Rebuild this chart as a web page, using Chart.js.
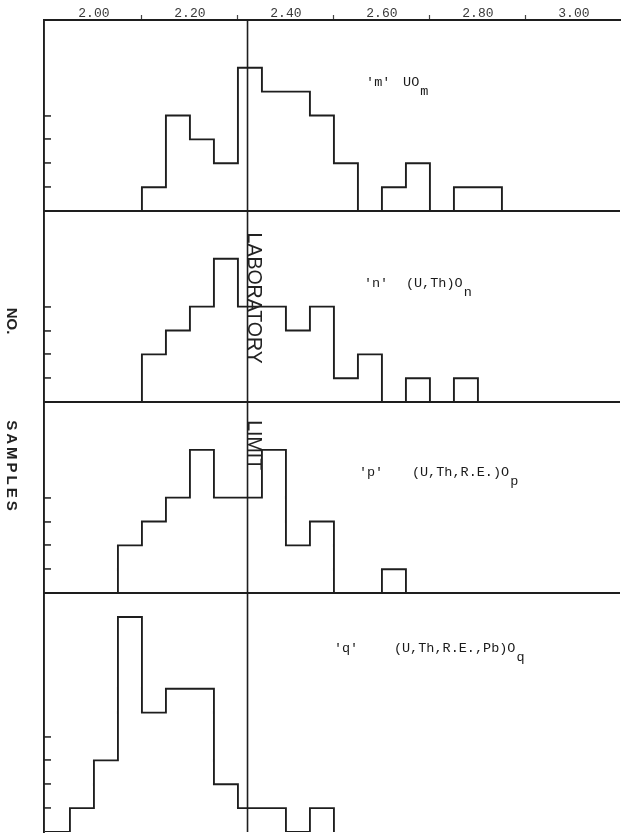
<!DOCTYPE html>
<html><head><meta charset="utf-8">
<script src="https://cdn.jsdelivr.net/npm/chart.js@4/dist/chart.umd.min.js"></script>
<style>html,body{margin:0;padding:0;background:#fff}#wrap{width:622px;height:837px;position:relative}</style>
</head><body><div id="wrap"><canvas id="c"></canvas></div>
<script>
// ---- data ----
const binStarts = [1.90,1.95,2.00,2.05,2.10,2.15,2.20,2.25,2.30,2.35,2.40,2.45,2.50,2.55,2.60,2.65,2.70,2.75,2.80];
const binWidth = 0.05;
const countsM = [0,0,0,0,1,4,3,2,6,5,5,4,2,0,1,2,0,1,1];
const countsN = [0,0,0,0,2,3,4,6,4,4,3,4,1,2,0,1,0,1,null];
const countsP = [0,0,0,2,3,4,6,4,4,6,2,3,0,0,1,null,null,null,null];
const countsQ = [0,1,3,9,5,6,6,2,1,1,0,1,null,null,null,null,null,null,null];
const xTickLabels = ['2.00','2.20','2.40','2.60','2.80','3.00'];
const yTickValues = [0,1,2,3,4];
const labLimit = 2.32;
const panelMax = {ym:8, yn:8, yp:8, yq:10};

const LINE = '#1e1e1e';
const xMin = 1.896, xMax = 3.096;

function stepPoints(counts){
  const pts=[{x:binStarts[0],y:0}];
  for(let i=0;i<counts.length;i++){
    if(counts[i]===null){pts.push({x:binStarts[i],y:0});return pts;}
    pts.push({x:binStarts[i],y:counts[i]});
  }
  pts.push({x:+(binStarts[binStarts.length-1]+binWidth).toFixed(2),y:0});
  return pts;
}
const xLabelVals = xTickLabels.map(Number);
const xTickVals = [];
xLabelVals.forEach((v,i)=>{xTickVals.push(v); if(i<xLabelVals.length-1) xTickVals.push(Math.round(v*10+1)/10);});
function isLabelVal(v){return xLabelVals.some(l=>Math.abs(l-v)<1e-6);}

function histDs(counts, axis){
  return {type:'line', data:stepPoints(counts), yAxisID:axis, xAxisID:'x', stepped:true,
    borderColor:LINE, borderWidth:1.9, pointRadius:0, fill:false, tension:0};
}
function limitDs(axis){
  return {type:'line', data:[{x:labLimit,y:0},{x:labLimit,y:panelMax[axis]}], yAxisID:axis, xAxisID:'x',
    borderColor:LINE, borderWidth:1.6, pointRadius:0, fill:false};
}
function yAxis(axis, weight, showBase){
  return {type:'linear', position:'left', stack:'panels', stackWeight:panelMax[axis], weight:weight,
    min:0, max:panelMax[axis],
    afterBuildTicks:s=>{s.ticks=yTickValues.map(v=>({value:v}));},
    afterFit:s=>{s.width=44;},
    ticks:{display:false},
    grid:{drawOnChartArea:true, drawTicks:true, tickLength:-7, lineWidth:1.9, tickWidth:1.5,
      color:c=>(c.tick && c.tick.value===0 && showBase)?LINE:'rgba(0,0,0,0)',
      tickColor:c=>(c.tick && c.tick.value>0)?LINE:'rgba(0,0,0,0)'},
    border:{display:true, color:LINE, width:1.9}
  };
}

const panelNotes = [
  {axis:'ym', tag:"'m'", formula:'UO', sub:'m', tagX:2.567, formX:2.644, y:5.4},
  {axis:'yn', tag:"'n'", formula:'(U,Th)O', sub:'n', tagX:2.5625, formX:2.65, y:4.98},
  {axis:'yp', tag:"'p'", formula:'(U,Th,R.E.)O', sub:'p', tagX:2.552, formX:2.6625, y:5.06},
  {axis:'yq', tag:"'q'", formula:'(U,Th,R.E.,Pb)O', sub:'q', tagX:2.50, formX:2.625, y:7.7}
];

const textPlugin = {
  id:'texts',
  afterDraw(chart){
    const ctx=chart.ctx, x=chart.scales.x, s=chart.scales, ca=chart.chartArea;
    ctx.save();
    ctx.fillStyle='#1a1a1a';
    ctx.font='13.5px "Liberation Mono", "DejaVu Sans Mono", monospace';
    ctx.textBaseline='middle'; ctx.textAlign='left';
    panelNotes.forEach(n=>{
      const py=s[n.axis].getPixelForValue(n.y);
      ctx.fillText(n.tag, x.getPixelForValue(n.tagX), py);
      const fx=x.getPixelForValue(n.formX);
      ctx.fillText(n.formula, fx, py);
      const w=ctx.measureText(n.formula).width;
      ctx.fillText(n.sub, fx+w+1, py+9);
    });
    function rot(text, px, py, font, spacing){
      ctx.save();
      ctx.translate(px,py); ctx.rotate(Math.PI/2);
      ctx.font=font; ctx.textAlign='left'; ctx.textBaseline='alphabetic';
      try{ctx.letterSpacing=spacing||'0px';}catch(e){}
      ctx.fillText(text,0,0);
      ctx.restore();
    }
    const lx=x.getPixelForValue(labLimit);
    ctx.fillStyle='#222';
    rot('LABORATORY', lx+0.5, s.yn.getPixelForValue(7.1), '19.5px "Liberation Sans", Arial, sans-serif');
    rot('LIMIT', lx+0.5, s.yp.getPixelForValue(7.24), '19.5px "Liberation Sans", Arial, sans-serif');
    rot('NO.', ca.left-37, s.yn.getPixelForValue(3.95), 'bold 15px "Liberation Sans", Arial, sans-serif');
    rot('SAMPLES', ca.left-37, s.yp.getPixelForValue(7.24), 'bold 15px "Liberation Sans", Arial, sans-serif', '3px');
    ctx.restore();
  }
};

new Chart(document.getElementById('c'), {
  type:'line',
  data:{datasets:[
    histDs(countsM,'ym'), histDs(countsN,'yn'), histDs(countsP,'yp'), histDs(countsQ,'yq'),
    limitDs('ym'), limitDs('yn'), limitDs('yp'), limitDs('yq')
  ]},
  options:{
    responsive:true, maintainAspectRatio:false, animation:false, devicePixelRatio:1,
    layout:{padding:{left:0,top:0,right:2,bottom:5}},
    plugins:{legend:{display:false}, tooltip:{enabled:false}, title:{display:false}},
    elements:{line:{borderCapStyle:'square'}},
    scales:{
      x:{type:'linear', position:'top', min:xMin, max:xMax,
        afterBuildTicks:s=>{s.ticks=xTickVals.map(v=>({value:v}));},
        afterFit:s=>{s.height=20;},
        grid:{drawOnChartArea:false, drawTicks:true, tickLength:5, tickWidth:1.2,
          tickColor:c=>(c.tick && !isLabelVal(c.tick.value))?'#444':'rgba(0,0,0,0)'},
        border:{display:true, color:LINE, width:1.9},
        ticks:{autoSkip:false, maxRotation:0, minRotation:0, padding:-6, color:'#3a3a3a',
          font:{family:'"Liberation Mono", monospace', size:13},
          callback:(v)=>{const i=xLabelVals.findIndex(l=>Math.abs(l-v)<1e-6); return i>=0?xTickLabels[i]:'';}}
      },
      ym:yAxis('ym',4,true),
      yn:yAxis('yn',3,true),
      yp:yAxis('yp',2,true),
      yq:yAxis('yq',1,false)
    }
  },
  plugins:[textPlugin]
});
</script></body></html>
